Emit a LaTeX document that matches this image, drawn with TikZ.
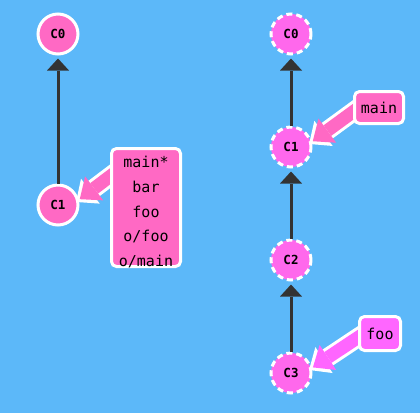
\documentclass[tikz,border=0pt]{standalone}
\usepackage{fontspec}
\usetikzlibrary{arrows.meta,calc}
\newfontfamily\codefont{DejaVu Sans Mono}
\definecolor{bgblue}{HTML}{5CB8F9}
\definecolor{cpink}{HTML}{FF69C4}
\definecolor{cmag}{HTML}{FF68EC}
\definecolor{fmag}{HTML}{FF66FF}
\definecolor{edgegray}{HTML}{333333}
\pgfdeclarelayer{labels}
\pgfsetlayers{main,labels}

\begin{document}
\begin{tikzpicture}[x=1pt, y=-1pt,
    commit/.style={circle, draw=white, line width=3pt, fill=#1,
        minimum size=40pt, inner sep=0pt,
        font=\codefont\bfseries\fontsize{12.5}{15}\selectfont},
    ghost/.style={commit=cmag, dash pattern=on 6pt off 4pt},
    parent/.style={draw=edgegray, line width=3pt, shorten >=3pt,
        -{Triangle[width=22pt, length=12pt, line width=0pt]}},
    lbl/.style={rectangle, rounded corners=5pt, draw=white, line width=3pt,
        fill=#1, inner sep=0pt, align=center,
        font=\codefont\fontsize{15}{24.7}\selectfont},
    branch/.style={draw=#1, line width=13pt, shorten >=4.7pt,
        -{Triangle[width=30pt, length=18pt, line width=0pt]},
        preaction={draw=white, line width=19pt, shorten >=0pt,
            -{Triangle[width=30pt, length=18pt, line width=6pt]}}}
]
    \fill[bgblue] (0,0) rectangle (420,413);
    \useasboundingbox (0,0) rectangle (420,413);

    \begin{pgfonlayer}{labels}
    \node[lbl=cpink, minimum width=69pt, minimum height=118pt,
        text height=118pt, text depth=0pt] (lblL) at (146,207.5)
        {main*\\bar\\foo\\o/foo\\o/main};
    \node[lbl=cpink, minimum width=49pt, minimum height=32pt] (lblMain) at (379,107.5) {main};
    \node[lbl=fmag, minimum width=41pt, minimum height=34pt] (lblFoo) at (380,333.5) {foo};
    \end{pgfonlayer}

    \node[commit=cpink] (l0) at (58,34) {C0};
    \node[commit=cpink] (l1) at (58,205) {C1};
    \node[ghost] (r0) at (291,34) {C0};
    \node[ghost] (r1) at (291,147) {C1};
    \node[ghost] (r2) at (291,260) {C2};
    \node[ghost] (r3) at (291,373) {C3};

    \draw[parent] (l1) -- (l0);
    \draw[parent] (r1) -- (r0);
    \draw[parent] (r2) -- (r1);
    \draw[parent] (r3) -- (r2);

    \draw[branch=cpink] ($(lblL.north west)+(14.5,18.5)$) -- ($(l1)+(18,-3)$);
    \draw[branch=cpink] ($(lblMain.west)+(6,0)$) -- ($(r1)+(18,-3)$);
    \draw[branch=fmag] ($(lblFoo.west)+(6,0)$) -- ($(r3)+(18,-3)$);
\end{tikzpicture}
\end{document}
